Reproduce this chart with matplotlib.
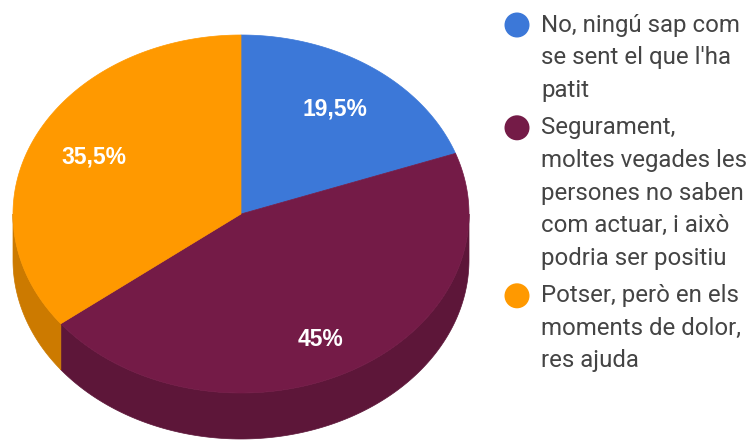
import numpy as np
import matplotlib
matplotlib.use("Agg")
import matplotlib.pyplot as plt
from matplotlib.patches import Polygon, Circle
from matplotlib.colors import to_rgb

# Survey answers and their shares (%)
answers = [
    "No, ningú sap com\nse sent el que l'ha\npatit",
    "Segurament,\nmoltes vegades les\npersones no saben\ncom actuar, i això\npodria ser positiu",
    "Potser, però en els\nmoments de dolor,\nres ajuda",
]
shares = [19.5, 45.0, 35.5]
share_labels = ["19,5%", "45%", "35,5%"]
colors = ["#3c78d8", "#741b47", "#ff9900"]

W, H = 753, 443
fig = plt.figure(figsize=(W / 100, H / 100), dpi=100)
ax = fig.add_axes([0, 0, 1, 1])
ax.set_xlim(0, W)
ax.set_ylim(H, 0)
ax.axis("off")

# 3D pie geometry (pixel space, y grows downward)
cx, cy = 241, 214
rx, ry = 228, 179
depth = 46


def pt(theta_deg, r=1.0, dy=0.0):
    t = np.radians(theta_deg)
    return cx + r * rx * np.sin(t), cy - r * ry * np.cos(t) + dy


def darker(c, f=0.8):
    return tuple(v * f for v in to_rgb(c))


total = sum(shares)
bounds = np.concatenate([[0], np.cumsum(shares) / total * 360.0])

# side walls: only the front half (90..270 degrees clockwise from top) shows
for i, col in enumerate(colors):
    a0, a1 = max(bounds[i], 90), min(bounds[i + 1], 270)
    if a1 <= a0:
        continue
    th = np.linspace(a0, a1, 200)
    top = np.array([pt(t) for t in th])
    bot = np.array([pt(t, dy=depth) for t in th])[::-1]
    poly = np.vstack([top, bot])
    ax.add_patch(Polygon(poly, closed=True, facecolor=darker(col, 0.8),
                         edgecolor=darker(col, 0.8), lw=0.5))

# top faces
for i, col in enumerate(colors):
    th = np.linspace(bounds[i], bounds[i + 1], 300)
    arc = np.array([pt(t) for t in th])
    poly = np.vstack([[cx, cy], arc])
    ax.add_patch(Polygon(poly, closed=True, facecolor=col, edgecolor=col, lw=0.5))

# percentage labels (front slices sit a little lower because of the wall)
for i, lab in enumerate(share_labels):
    mid = (bounds[i] + bounds[i + 1]) / 2
    x, y = pt(mid, r=0.72)
    if np.cos(np.radians(mid)) < 0:
        y += depth * 0.28
    ax.text(x, y, lab, color="white", fontsize=16.5, fontweight="bold",
            family="Liberation Sans", ha="center", va="center")

# legend
line_h = 32.6
item_gap = 5
y = 25
for col, txt in zip(colors, answers):
    ax.add_patch(Circle((517, y), 12.5, facecolor=col, edgecolor="none"))
    for k, line in enumerate(txt.split("\n")):
        ax.text(541, y + k * line_h, line, color="#444444", fontsize=17.3,
                family="Roboto", ha="left", va="center")
    y += len(txt.split("\n")) * line_h + item_gap

fig.savefig("out.png", dpi=100)
